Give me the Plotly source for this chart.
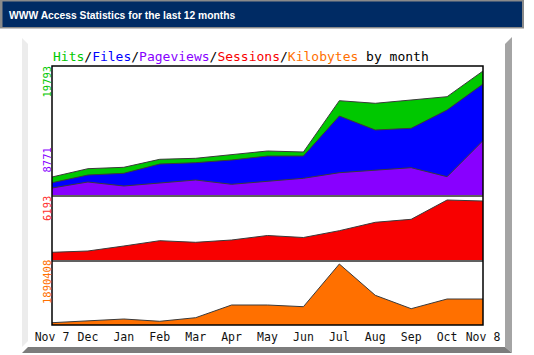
import plotly.graph_objects as go

W, H = 534, 355

months = ["Nov 7", "Dec", "Jan", "Feb", "Mar", "Apr", "May", "Jun",
          "Jul", "Aug", "Sep", "Oct", "Nov 8"]
hits = [3008, 4323, 4545, 5811, 5970, 6492, 7126, 6967, 15090, 14679, 15201, 15724, 19793]
files = [2106, 3325, 3594, 5067, 5273, 5700, 6334, 6334, 12668, 10451, 10720, 13618, 17735]
pageviews = [1267, 2217, 1583, 2106, 2534, 1853, 2375, 2803, 3690, 4117, 4481, 3056, 8771]
sessions = [883, 1015, 1523, 2061, 1898, 2132, 2589, 2386, 3076, 3929, 4234, 6193, 6091]
kbytes = [71278, 133258, 185942, 114664, 226229, 619806, 619806, 567122, 1890408,
          920412, 505142, 805748, 805748]

C_HITS = "#00C800"
C_FILES = "#0000FF"
C_PAGES = "#8800FF"
C_SESS = "#F80000"
C_KB = "#FF7000"
OUTLINE = "#3a3a3a"


def px(x):
    return x / W


def py(y):
    return 1 - y / H


xs = list(range(len(months)))

fig = go.Figure()


def area(vals, color, yax):
    fig.add_trace(go.Scatter(
        x=xs, y=vals, yaxis=yax, mode="lines", fill="tozeroy",
        fillcolor=color, line=dict(color=OUTLINE, width=1),
        hoverinfo="skip", showlegend=False))


area(hits, C_HITS, "y")
area(files, C_FILES, "y")
area(pageviews, C_PAGES, "y")
area(sessions, C_SESS, "y2")
area(kbytes, C_KB, "y3")

L, R = 52, 483
T, S1, S2, B = 66, 196, 261, 325

shapes = []
# header bar
shapes.append(dict(type="rect", xref="paper", yref="paper", x0=px(0), x1=px(524),
                   y0=py(28.5), y1=py(0), fillcolor="#8a8a8a", line_width=0, layer="below"))
shapes.append(dict(type="rect", xref="paper", yref="paper", x0=px(2.5), x1=px(522),
                   y0=py(27), y1=py(1.5), fillcolor="#002B64", line_width=0, layer="below"))
# 3D frame
shapes.append(dict(type="path", xref="paper", yref="paper",
                   path=f"M {px(22)},{py(38)} L {px(28)},{py(44)} L {px(28)},{py(341)} L {px(22)},{py(347)} Z",
                   fillcolor="#ececec", line_width=0, layer="below"))
shapes.append(dict(type="path", xref="paper", yref="paper",
                   path=f"M {px(505)},{py(44)} L {px(512)},{py(37)} L {px(512)},{py(353)} L {px(505)},{py(347)} Z",
                   fillcolor="#a4a4a4", line_width=0, layer="below"))
shapes.append(dict(type="path", xref="paper", yref="paper",
                   path=f"M {px(22)},{py(353)} L {px(28)},{py(347)} L {px(505)},{py(347)} L {px(512)},{py(353)} Z",
                   fillcolor="#7c7c7c", line_width=0, layer="below"))
# plot borders
shapes.append(dict(type="line", xref="paper", yref="paper", x0=px(L), x1=px(R),
                   y0=py(S1), y1=py(S1), line=dict(color="#606060", width=2)))
shapes.append(dict(type="line", xref="paper", yref="paper", x0=px(L), x1=px(R),
                   y0=py(S2), y1=py(S2), line=dict(color="#606060", width=2)))
shapes.append(dict(type="rect", xref="paper", yref="paper", x0=px(L), x1=px(R),
                   y0=py(B), y1=py(T), line=dict(color="#000000", width=1.5)))

annotations = []
annotations.append(dict(
    xref="paper", yref="paper", x=px(7), y=py(15.5), xanchor="left", yanchor="middle",
    showarrow=False, text="<b>WWW Access Statistics for the last 12 months</b>",
    font=dict(family="Liberation Sans, Arial", size=10.3, color="#ffffff")))
annotations.append(dict(
    xref="paper", yref="paper", x=px(51), y=py(56.5), xanchor="left", yanchor="middle",
    showarrow=False,
    text=(f"<span style='color:{C_HITS}'>Hits</span>/"
          f"<span style='color:{C_FILES}'>Files</span>/"
          f"<span style='color:{C_PAGES}'>Pageviews</span>/"
          f"<span style='color:{C_SESS}'>Sessions</span>/"
          f"<span style='color:{C_KB}'>Kilobytes</span> by month"),
    font=dict(family="DejaVu Sans Mono", size=13, color="#000000")))


def vlabel(txt, color, ycenter):
    annotations.append(dict(
        xref="paper", yref="paper", x=px(46.5), y=py(ycenter), xanchor="center",
        yanchor="middle", showarrow=False, textangle=-90, text=txt,
        font=dict(family="DejaVu Sans Mono", size=10.5, color=color)))


vlabel(str(max(hits)), C_HITS, 82)
vlabel(str(max(pageviews)), C_PAGES, 160)
vlabel(str(max(sessions)), "#FF3030", 208.5)
vlabel(str(max(kbytes)), C_KB, 282.5)

fig.update_layout(
    width=W, height=H, autosize=False,
    margin=dict(l=0, r=0, t=0, b=0, pad=0, autoexpand=False),
    paper_bgcolor="#ffffff", plot_bgcolor="#ffffff",
    shapes=shapes, annotations=annotations,
    xaxis=dict(domain=[px(L), px(R)], range=[0, 12], anchor="y3", automargin=False,
               tickvals=xs, ticktext=months, ticks="", showgrid=False,
               zeroline=False, showline=False, ticklabelstandoff=3,
               tickfont=dict(family="DejaVu Sans Mono", size=11.5, color="#111111")),
    yaxis=dict(domain=[py(S1), py(T)], range=[0, 19793 * 130 / 125], showgrid=False,
               zeroline=False, showticklabels=False, anchor="x", automargin=False),
    yaxis2=dict(domain=[py(S2), py(S1)], range=[0, 6193 * 65 / 61], showgrid=False,
                zeroline=False, showticklabels=False, anchor="x", automargin=False),
    yaxis3=dict(domain=[py(B), py(S2)], range=[0, 1890408 * 64 / 61], showgrid=False,
                zeroline=False, showticklabels=False, anchor="x", automargin=False),
)

fig.write_html("out.html", config={"displayModeBar": False, "staticPlot": True},
               post_script="document.body.style.margin='0';document.body.style.overflow='hidden';")
